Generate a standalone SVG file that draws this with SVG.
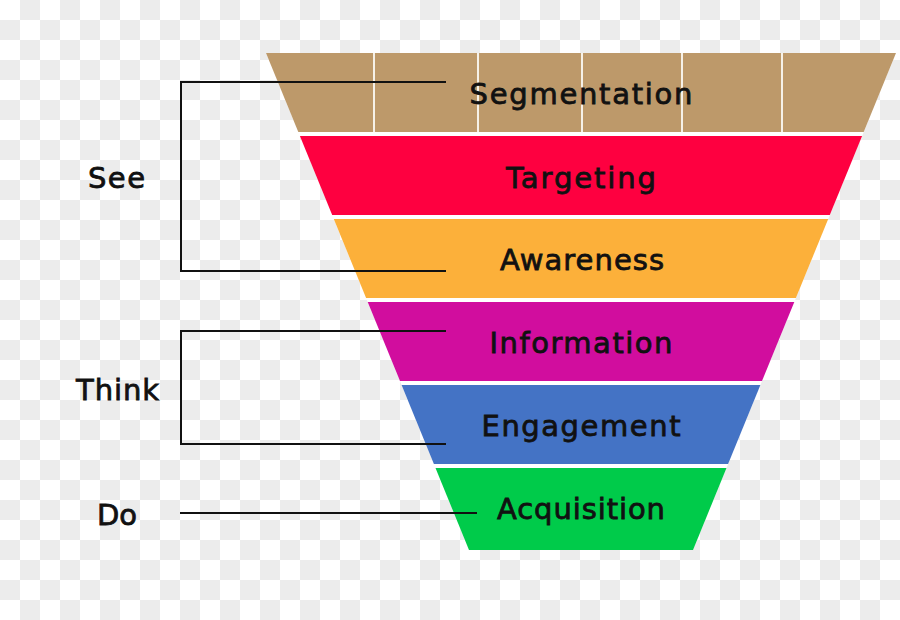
<svg xmlns="http://www.w3.org/2000/svg" width="900" height="620" viewBox="0 0 900 620">
  <defs>
    <pattern id="checker" width="40" height="40" patternUnits="userSpaceOnUse">
      <rect width="40" height="40" fill="#ffffff"/>
      <rect x="20" y="0" width="20" height="20" fill="#ececec"/>
      <rect x="0" y="20" width="20" height="20" fill="#ececec"/>
    </pattern>
    <style>
      .lbl { font-family: "DejaVu Sans", "Liberation Sans", sans-serif; font-size: 29px; fill: #111111; stroke: #111111; stroke-width: 0.8; text-anchor: middle; }
      .side { font-family: "DejaVu Sans", "Liberation Sans", sans-serif; font-size: 29px; fill: #111111; stroke: #111111; stroke-width: 0.8; }
      .conn { stroke: #111111; stroke-width: 2; fill: none; }
      .div { stroke: #f6f1e8; stroke-width: 2; }
    </style>
  </defs>
  <rect width="900" height="620" fill="url(#checker)"/>
  <polygon points="266,53 896,53 693,550 469,550" fill="#ffffff"/>

  <g id="segmentation">
    <polygon points="266,53 896,53 863.7,132 298.3,132" fill="#BD996A"/>
    <line class="div" x1="374" y1="53" x2="374" y2="132"/>
    <line class="div" x1="478" y1="53" x2="478" y2="132"/>
    <line class="div" x1="582" y1="53" x2="582" y2="132"/>
    <line class="div" x1="682" y1="53" x2="682" y2="132"/>
    <line class="div" x1="782" y1="53" x2="782" y2="132"/>
    <text class="lbl" x="581" y="104" textLength="223" lengthAdjust="spacing">Segmentation</text>
  </g>
  <g id="targeting">
    <polygon points="299.9,136 862.1,136 829.8,215 332.2,215" fill="#FE0040"/>
    <text class="lbl" x="581" y="188" textLength="150" lengthAdjust="spacing">Targeting</text>
  </g>
  <g id="awareness">
    <polygon points="333.8,219 828.2,219 795.9,298 366.1,298" fill="#FCB03A"/>
    <text class="lbl" x="582" y="270" textLength="164" lengthAdjust="spacing">Awareness</text>
  </g>
  <g id="information">
    <polygon points="367.7,302 794.3,302 762,381 400,381" fill="#D10D9E"/>
    <text class="lbl" x="581" y="353" textLength="183" lengthAdjust="spacing">Information</text>
  </g>
  <g id="engagement">
    <polygon points="401.6,385 760.4,385 728.1,464 433.9,464" fill="#4473C5"/>
    <text class="lbl" x="581" y="436" textLength="199" lengthAdjust="spacing">Engagement</text>
  </g>
  <g id="acquisition">
    <polygon points="435.5,468 726.5,468 693,550 469,550" fill="#00CB4A"/>
    <text class="lbl" x="581" y="519" textLength="168" lengthAdjust="spacing">Acquisition</text>
  </g>

  <g id="connectors">
    <polyline class="conn" points="446,82 181,82 181,271 446,271"/>
    <polyline class="conn" points="446,331 181,331 181,444 446,444"/>
    <line class="conn" x1="180" y1="513" x2="477" y2="513"/>
  </g>

  <g id="see"><text class="side" x="88" y="188" textLength="57" lengthAdjust="spacing">See</text></g>
  <g id="think"><text class="side" x="76" y="400" textLength="83" lengthAdjust="spacing">Think</text></g>
  <g id="do"><text class="side" x="97" y="525" textLength="40" lengthAdjust="spacing">Do</text></g>
</svg>
